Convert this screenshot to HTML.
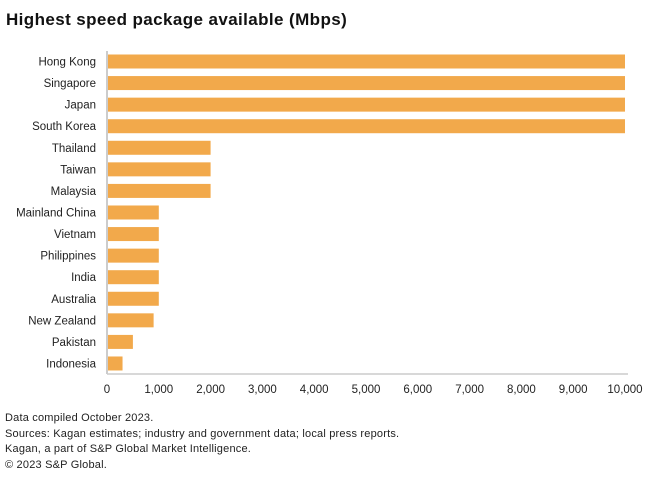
<!DOCTYPE html>
<html><head><meta charset="utf-8"><style>
body{margin:0;background:#fff;font-family:"Liberation Sans",sans-serif;}
#wrap{position:relative;width:660px;height:484px;overflow:hidden}
.t{position:absolute;white-space:nowrap}
</style></head><body>
<div id="wrap">
<div class="t" style="left:6px;top:10px;font-size:17px;font-weight:bold;color:#111;letter-spacing:0.4px">Highest speed package available (Mbps)</div>
<svg id="c" width="660" height="410" style="position:absolute;left:0;top:0"></svg>
<div style="position:absolute;left:5px;top:411px;font-size:11px;line-height:15.7px;color:#222;letter-spacing:0.2px">
<div>Data compiled October 2023.</div>
<div>Sources: Kagan estimates; industry and government data; local press reports.</div>
<div>Kagan, a part of S&amp;P Global Market Intelligence.</div>
<div>© 2023 S&amp;P Global.</div>
</div>
</div>
<script>
const categories=["Hong Kong","Singapore","Japan","South Korea","Thailand","Taiwan","Malaysia","Mainland China","Vietnam","Philippines","India","Australia","New Zealand","Pakistan","Indonesia"];
const values=[10000,10000,10000,10000,2000,2000,2000,1000,1000,1000,1000,1000,900,500,300];
const ticks=[0,1000,2000,3000,4000,5000,6000,7000,8000,9000,10000];
const tickLabels=["0","1,000","2,000","3,000","4,000","5,000","6,000","7,000","8,000","9,000","10,000"];
const NS="http://www.w3.org/2000/svg";
const svg=document.getElementById('c');
const x0=107,x1=625,yTop=51,step=21.57,bh=14;
const xs=v=>x0+(v/10000)*(x1-x0);
const yc=i=>61.5+i*step;
function mk(t,a){const e=document.createElementNS(NS,t);for(const k in a)e.setAttribute(k,a[k]);svg.appendChild(e);return e;}
categories.forEach((c,i)=>{
 const r=mk('rect',{x:x0+1,y:yc(i)-bh/2,width:xs(values[i])-x0-1,height:bh,fill:'#f2a94b'});
 
 
 const l=mk('text',{x:96,y:yc(i)+4,'text-anchor':'end','font-size':'11.5',fill:'#222','font-family':'Liberation Sans'});
 l.textContent=c;
 
 
});
const ax=mk('line',{x1:x0,y1:yTop,x2:x0,y2:374,stroke:'#aaa','stroke-width':1.2});


const bx=mk('line',{x1:x0,y1:374,x2:x1+3,y2:374,stroke:'#ccc','stroke-width':1.5});


ticks.forEach((v,i)=>{
 const t=mk('text',{x:xs(v),y:393,'text-anchor':'middle','font-size':'11.5',fill:'#222','font-family':'Liberation Sans'});
 t.textContent=tickLabels[i];
 
 
});
</script>
</body></html>
